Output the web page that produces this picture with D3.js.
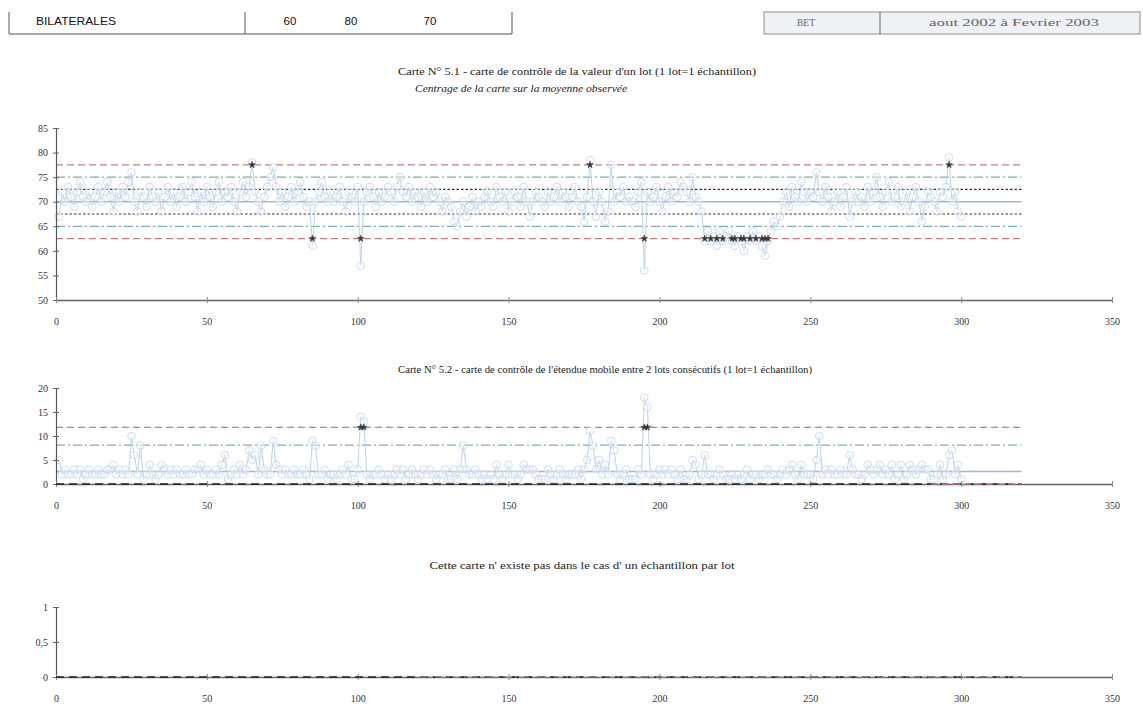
<!DOCTYPE html>
<html><head><meta charset="utf-8">
<script src="https://cdn.jsdelivr.net/npm/d3@7"></script>
<style>
body{margin:0;background:#fff;}
text{font-family:"Liberation Serif","DejaVu Serif",serif;}
</style></head>
<body>
<script>
// ---------- DATA ----------
const headerLeft = ["BILATERALES", "60", "80", "70"];
const headerRight = ["BET", "aout 2002 à Fevrier 2003"];

const title1 = "Carte N° 5.1 - carte de contrôle de la valeur d'un lot (1 lot=1 échantillon)";
const subtitle1 = "Centrage de la carte sur la moyenne observée";
const title2 = "Carte N° 5.2 - carte de contrôle de l'étendue mobile entre 2 lots consécutifs (1 lot=1 échantillon)";
const title3 = "Cette carte n' existe pas dans le cas d' un échantillon par lot";

const xTicks = [0, 50, 100, 150, 200, 250, 300, 350];
const y1Ticks = [50, 55, 60, 65, 70, 75, 80, 85];
const y2Ticks = [0, 5, 10, 15, 20];
const y3Ticks = [0, 0.5, 1];
const y3TickLabels = ["0", "0,5", "1"];

// valeurs individuelles (lots 1..300)
const values1 = [
  67, 72, 70, 73, 71, 69, 72, 74, 71, 70,
  72, 69, 71, 73, 70, 72, 74, 71, 68, 72,
  70, 73, 71, 74, 76, 70, 68, 72, 71, 69,
  73, 71, 70, 72, 68, 71, 73, 70, 72, 69,
  71, 73, 70, 72, 74, 71, 68, 72, 70, 73,
  71, 69, 72, 74, 70, 72, 71, 73, 70, 68,
  72, 74, 71, 73, 78, 72, 70, 68, 71, 73,
  75, 77, 73, 70, 72, 69, 71, 73, 70, 72,
  74, 71, 69, 70, 61, 70, 72, 74, 71, 70,
  72, 70, 71, 73, 70, 68, 72, 71, 70, 73,
  57, 70, 72, 73, 71, 69, 72, 70, 71, 73,
  72, 70, 73, 75, 72, 71, 73, 70, 72, 71,
  69, 72, 70, 73, 71, 72, 70, 68, 71, 70,
  69, 66, 65, 68, 70, 67, 69, 71, 68, 70,
  69, 71, 72, 70, 69, 73, 71, 70, 72, 68,
  70, 72, 71, 69, 73, 70, 67, 70, 72, 71,
  70, 69, 72, 70, 71, 73, 70, 72, 71, 69,
  71, 73, 70, 69, 66, 71, 78.5, 70, 67, 72,
  70, 66, 68, 77.5, 70, 72, 71, 73, 70, 71,
  70, 69, 72, 74, 56, 72, 70, 71, 73, 70,
  68, 71, 73, 70, 72, 71, 74, 73, 72, 70,
  75, 71, 70, 68, 62, 64, 62, 63, 61, 64,
  62, 63, 64, 62, 61, 63, 62, 60, 63, 62,
  64, 62, 63, 61, 59, 62, 64, 66, 65, 67,
  70, 72, 69, 73, 71, 70, 74, 72, 70, 72,
  71, 76, 72, 70, 73, 71, 68, 70, 72, 69,
  71, 73, 67, 70, 72, 70, 71, 69, 73, 70,
  72, 75, 71, 69, 72, 74, 70, 71, 73, 69,
  70, 72, 68, 71, 73, 70, 66, 69, 72, 71,
  70, 68, 72, 71, 73, 79, 70, 72, 68, 67
];

// étendues mobiles (lots 1..300)
const values2 = [
  5, 2, 3, 2, 2, 3, 2, 3, 1, 2,
  3, 2, 2, 3, 2, 2, 3, 3, 4, 2,
  3, 2, 3, 2, 10, 6, 2, 8, 1, 2,
  4, 2, 1, 2, 4, 3, 2, 3, 2, 3,
  2, 2, 3, 2, 2, 3, 3, 4, 2, 3,
  2, 2, 3, 2, 4, 6, 1, 2, 3, 2,
  4, 2, 3, 7, 5, 6, 2, 8, 3, 2,
  2, 9, 4, 3, 2, 3, 2, 2, 3, 2,
  2, 3, 2, 1, 9, 8, 2, 2, 3, 1,
  2, 2, 1, 2, 3, 2, 4, 1, 1, 3,
  14, 13, 2, 1, 2, 2, 3, 2, 1, 2,
  1, 2, 3, 2, 3, 1, 2, 3, 2, 1,
  2, 3, 2, 3, 2, 1, 2, 2, 3, 1,
  1, 3, 1, 3, 8, 3, 2, 2, 3, 2,
  1, 2, 1, 2, 1, 4, 2, 1, 2, 4,
  2, 2, 1, 2, 4, 3, 3, 3, 2, 1,
  1, 1, 3, 2, 1, 2, 3, 2, 1, 2,
  2, 2, 3, 1, 3, 5, 11, 8, 3, 5,
  2, 4, 2, 9, 7, 2, 1, 2, 3, 1,
  1, 1, 3, 2, 18, 16, 2, 1, 2, 3,
  2, 3, 2, 3, 2, 1, 3, 1, 1, 2,
  5, 4, 1, 2, 6, 2, 2, 1, 2, 3,
  2, 1, 1, 2, 1, 2, 1, 2, 3, 1,
  2, 2, 1, 2, 2, 3, 2, 2, 1, 2,
  3, 2, 3, 4, 2, 1, 4, 2, 2, 2,
  1, 5, 10, 2, 3, 2, 3, 2, 2, 3,
  2, 2, 6, 3, 2, 2, 1, 2, 4, 3,
  2, 3, 4, 2, 3, 2, 4, 1, 2, 4,
  1, 2, 4, 3, 2, 3, 4, 3, 3, 1,
  1, 2, 4, 1, 2, 6, 7, 2, 4, 1
];

const limits1 = { lsc: 77.5, lsa: 75, lss: 72.5, center: 70, lis: 67.5, lia: 65, lic: 62.5 };
const limits2 = { lsc: 11.8, lsa: 8.1, center: 2.6, lic: 0 };
const limits3 = { center: 0 };
const limitSpan = [0, 320];

// ---------- DRAW ----------
const W = 1143, H = 707;
const svg = d3.select("body").append("svg").attr("width", W).attr("height", H);

const x = d3.scaleLinear().domain([0, 350]).range([56, 1112]);
const y1 = d3.scaleLinear().domain([50, 85]).range([300, 128]);
const y2 = d3.scaleLinear().domain([0, 20]).range([484, 388]);
const y3 = d3.scaleLinear().domain([0, 1]).range([677, 607]);

// Header
const hg = svg.append("g");
hg.append("path").attr("d", "M9,12V34H512V12M245,12V34").attr("fill", "none").attr("stroke", "#555").attr("stroke-width", 1);
const hlPos = [{x: 36, a: "start", w: 80}, {x: 290, a: "middle"}, {x: 351, a: "middle"}, {x: 430, a: "middle"}];
headerLeft.forEach((t, i) => {
  const el = hg.append("text").attr("x", hlPos[i].x).attr("y", 25).attr("text-anchor", hlPos[i].a)
    .style("font-family", "Liberation Sans, Arial, sans-serif").attr("font-size", 11.5).attr("fill", "#111").text(t);
  if (hlPos[i].w) el.attr("textLength", hlPos[i].w).attr("lengthAdjust", "spacingAndGlyphs");
});
hg.append("rect").attr("x", 764).attr("y", 12).attr("width", 376).attr("height", 22).attr("fill", "#eef1f5").attr("stroke", "#8a8f96").attr("stroke-width", 1);
hg.append("line").attr("x1", 880).attr("x2", 880).attr("y1", 12).attr("y2", 34).attr("stroke", "#666");
hg.append("text").attr("x", 806).attr("y", 26).attr("text-anchor", "middle").attr("font-size", 9.5).attr("fill", "#666").text(headerRight[0]);
hg.append("text").attr("x", 1014).attr("y", 26).attr("text-anchor", "middle").attr("font-size", 9.5).attr("fill", "#666")
  .attr("textLength", 170).attr("lengthAdjust", "spacingAndGlyphs").text(headerRight[1]);

// Titles
function title(t, cx, y, w, italic) {
  svg.append("text").attr("x", cx).attr("y", y).attr("text-anchor", "middle").attr("font-size", 9.5)
    .attr("fill", "#222").attr("font-style", italic ? "italic" : null)
    .attr("textLength", w).attr("lengthAdjust", "spacingAndGlyphs").text(t);
}
title(title1, 577, 75, 358, false);
title(subtitle1, 521, 92, 212, true);
title(title2, 605, 373, 414, false);
title(title3, 582, 569, 305, false);

// Axes helpers
function drawXAxis(yPix) {
  const g = svg.append("g").attr("transform", `translate(0,${yPix})`)
    .call(d3.axisBottom(x).tickValues(xTicks).tickSize(0).tickPadding(18).tickFormat(d3.format("d")));
  g.select(".domain").attr("stroke", "#666").attr("stroke-width", 1.3);
  g.selectAll(".tick").append("line").attr("y1", -3).attr("y2", 3).attr("stroke", "#888");
  g.selectAll("text").attr("font-size", 10).attr("fill", "#333");
  return g;
}
function drawYAxis(scale, ticks, labels) {
  const g = svg.append("g").attr("transform", `translate(56,0)`)
    .call(d3.axisLeft(scale).tickValues(ticks).tickSize(0).tickPadding(8)
      .tickFormat((d, i) => labels ? labels[i] : d3.format("d")(d)));
  g.select(".domain").attr("stroke", "#555").attr("stroke-width", 1.2);
  g.selectAll(".tick").append("line").attr("x1", -3).attr("x2", 3).attr("stroke", "#666");
  g.selectAll("text").attr("font-size", 10).attr("fill", "#333");
}

const styles = {
  red: { stroke: "#c77b7b", dash: "7,4", w: 1.3 },
  teal: { stroke: "#7fb0a6", dash: "9,3,2,3", w: 1.2 },
  dot: { stroke: "#333", dash: "2.5,2", w: 1.2 },
  center: { stroke: "#9ab9d6", dash: null, w: 1.4 },
  black: { stroke: "#222", dash: "8,5", w: 1.5 }
};
function hline(scale, v, st, span) {
  const s = styles[st];
  svg.append("line").attr("x1", x(span[0])).attr("x2", x(span[1])).attr("y1", scale(v)).attr("y2", scale(v))
    .attr("stroke", s.stroke).attr("stroke-width", s.w).attr("stroke-dasharray", s.dash);
}
function series(scale, vals) {
  const line = d3.line().x((d, i) => x(i + 1)).y(d => scale(d));
  svg.append("path").datum(vals).attr("d", line).attr("fill", "none").attr("stroke", "#bcd1e8").attr("stroke-width", 1);
  svg.append("g").selectAll("circle").data(vals).join("circle")
    .attr("cx", (d, i) => x(i + 1)).attr("cy", d => scale(d)).attr("r", 3.8)
    .attr("fill", "rgba(255,255,255,0.35)").attr("stroke", "#c6d7ea").attr("stroke-width", 0.9);
}
function outMarks(scale, vals, hi, lo) {
  const pts = [];
  vals.forEach((v, i) => {
    if (v > hi) pts.push([i + 1, hi]);
    else if (lo !== null && v < lo) pts.push([i + 1, lo]);
  });
  svg.append("g").selectAll("path").data(pts).join("path")
    .attr("transform", d => `translate(${x(d[0])},${scale(d[1])})`)
    .attr("d", d3.symbol(d3.symbolStar, 14)).attr("fill", "#333").attr("stroke", "#444").attr("stroke-width", 0.6);
}

// Chart 1
hline(y1, limits1.lsc, "red", limitSpan);
hline(y1, limits1.lic, "red", limitSpan);
hline(y1, limits1.lsa, "teal", limitSpan);
hline(y1, limits1.lia, "teal", limitSpan);
hline(y1, limits1.lss, "dot", limitSpan);
hline(y1, limits1.lis, "dot", limitSpan);
hline(y1, limits1.center, "center", limitSpan);
series(y1, values1);
outMarks(y1, values1, limits1.lsc, limits1.lic);
drawYAxis(y1, y1Ticks);
drawXAxis(300);

// Chart 2
hline(y2, limits2.lsc, "red", limitSpan);
hline(y2, limits2.lsa, "teal", limitSpan);
hline(y2, limits2.center, "center", limitSpan);
series(y2, values2);
outMarks(y2, values2, limits2.lsc, null);
drawYAxis(y2, y2Ticks);
drawXAxis(484);
hline(y2, limits2.lic, "black", limitSpan);
hline(y2, limits2.lic, "red", [290, 320]);

// Chart 3
drawYAxis(y3, y3Ticks, y3TickLabels);
drawXAxis(677);
hline(y3, limits3.center, "black", limitSpan);
hline(y3, limits3.center, "teal", [120, 320]);
</script>
</body></html>
